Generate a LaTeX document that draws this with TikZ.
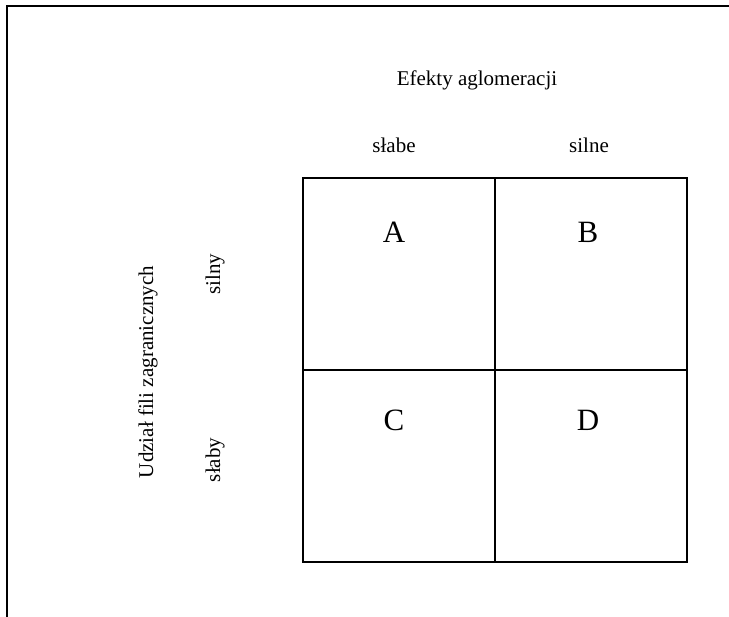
\documentclass[tikz,border=0pt]{standalone}
\usepackage{fontspec}
\setmainfont{Liberation Serif}
\begin{document}
\begin{tikzpicture}[x=1pt,y=-1pt,
  lbl/.style={font=\fontsize{21}{24}\selectfont, inner sep=0pt},
  big/.style={font=\fontsize{31}{34}\selectfont, inner sep=0pt},
  cell/.style={draw, line width=2pt, minimum width=192pt, minimum height=192pt, inner sep=0pt, anchor=north west}]
\useasboundingbox (0,0) rectangle (729,617);
\coordinate (fb) at (6.5,617);
\coordinate (fc) at (6.5,6.5);
\coordinate (fr) at (729,6.5);
\draw[line width=2pt] (fb) -- (fc) -- (fr);
\node[cell] (ca) at (301.5,177) {};
\node[cell] (cb) at (493.5,177) {};
\node[cell] (cc) at (301.5,369) {};
\node[cell] (cd) at (493.5,369) {};
\node[big] (A) at (394,232) {A};
\node[big] (B) at (588,232) {B};
\node[big] (C) at (394,420) {C};
\node[big] (D) at (588,420) {D};
\node[lbl] (t) at (477,80) {Efekty aglomeracji};
\node[lbl] (s1) at (394,145) {słabe};
\node[lbl] (s2) at (589,145) {silne};
\node[lbl, rotate=90] (u) at (148,372) {Udział fili zagranicznych};
\node[lbl, rotate=90] (sy) at (215,274) {silny};
\node[lbl, rotate=90] (sb) at (215,460) {słaby};
\end{tikzpicture}
\end{document}
